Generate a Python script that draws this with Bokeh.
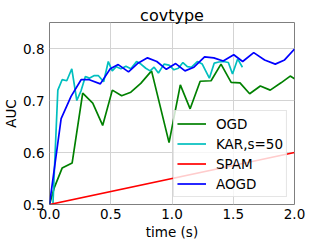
from bokeh.plotting import figure
from bokeh.models import Range1d, FixedTicker, PrintfTickFormatter
from bokeh.embed import file_html
from bokeh.resources import INLINE

title = "covtype"
x_label = "time (s)"
y_label = "AUC"
x_ticks = [0.0, 0.5, 1.0, 1.5, 2.0]
y_ticks = [0.5, 0.6, 0.7, 0.8]

ogd_t = [0, 0.04, 0.103, 0.185, 0.271, 0.353, 0.434, 0.513, 0.589, 0.664, 0.745, 0.833,
         0.976, 1.068, 1.148, 1.230, 1.319, 1.400, 1.483, 1.555, 1.634, 1.721, 1.802,
         1.890, 1.965, 2.0]
ogd_v = [0.5, 0.533, 0.570, 0.580, 0.714, 0.695, 0.652, 0.720, 0.709, 0.716, 0.733, 0.757,
         0.619, 0.730, 0.684, 0.737, 0.738, 0.770, 0.735, 0.734, 0.713, 0.728, 0.720,
         0.734, 0.747, 0.742]

kar_t = [0, 0.028, 0.068, 0.103, 0.141, 0.182, 0.223, 0.258, 0.293, 0.325, 0.366, 0.398,
         0.442, 0.480, 0.512, 0.545, 0.583, 0.624, 0.664, 0.711, 0.746, 0.786, 0.821,
         0.854, 0.889, 0.935, 0.976, 1.016, 1.052, 1.089, 1.125, 1.160, 1.207, 1.247,
         1.305, 1.345, 1.382, 1.420, 1.460, 1.494, 1.536, 1.575]
kar_v = [0.5, 0.5, 0.720, 0.740, 0.738, 0.761, 0.700, 0.719, 0.746, 0.743, 0.748, 0.748,
         0.736, 0.775, 0.757, 0.765, 0.761, 0.766, 0.761, 0.775, 0.770, 0.762, 0.757,
         0.764, 0.753, 0.770, 0.768, 0.759, 0.762, 0.773, 0.765, 0.764, 0.775, 0.770,
         0.743, 0.772, 0.774, 0.775, 0.773, 0.751, 0.780, 0.764]

spam_t = [0.0, 2.0]
spam_v = [0.5, 0.6]

aogd_t = [0, 0.095, 0.176, 0.258, 0.325, 0.415, 0.496, 0.561, 0.645, 0.718, 0.800, 0.876,
          0.954, 1.030, 1.106, 1.179, 1.266, 1.341, 1.418, 1.504, 1.577, 1.667, 1.756,
          1.843, 1.919, 2.0]
aogd_v = [0.5, 0.665, 0.708, 0.740, 0.740, 0.732, 0.761, 0.769, 0.755, 0.771, 0.782, 0.775,
          0.760, 0.771, 0.757, 0.764, 0.784, 0.782, 0.776, 0.788, 0.775, 0.792, 0.778,
          0.770, 0.778, 0.799]

FONT = "DejaVu Sans"

p = figure(width=310, height=244, output_backend="svg", toolbar_location=None,
           x_range=Range1d(0, 2.0), y_range=Range1d(0.5, 0.85), title=title,
           min_border_left=48, min_border_right=16, min_border_top=22, min_border_bottom=40)

p.title.text_font = FONT
p.title.text_font_size = "16px"
p.title.text_font_style = "normal"
p.title.text_color = "black"
p.title.align = "center"
p.title.standoff = -4

lw = 1.7
p.line(ogd_t, ogd_v, line_color="#008000", line_width=lw, legend_label="OGD")
p.line(kar_t, kar_v, line_color="#00bfbf", line_width=lw, legend_label="KAR,s=50")
p.line(spam_t, spam_v, line_color="#ff0000", line_width=lw, legend_label="SPAM")
p.line(aogd_t, aogd_v, line_color="#0000ff", line_width=lw, legend_label="AOGD")

for ax, ticks in ((p.xaxis[0], x_ticks), (p.yaxis[0], y_ticks)):
    ax.ticker = FixedTicker(ticks=ticks)
    ax.formatter = PrintfTickFormatter(format="%.1f")
    ax.axis_line_color = None
    ax.major_tick_line_color = None
    ax.minor_tick_line_color = None
    ax.major_tick_out = 0
    ax.major_tick_in = 0
    ax.major_label_text_font = FONT
    ax.major_label_text_font_size = "13.5px"
    ax.major_label_text_color = "black"
    ax.axis_label_text_font = FONT
    ax.axis_label_text_font_size = "13.5px"
    ax.axis_label_text_font_style = "normal"
    ax.axis_label_text_color = "black"

p.xaxis.axis_label = x_label
p.yaxis.axis_label = y_label
p.xaxis.major_label_standoff = 4
p.xaxis.axis_label_standoff = 2
p.yaxis.major_label_standoff = 5
p.yaxis.axis_label_standoff = 1

p.grid.grid_line_color = "#d3d3d3"
p.grid.grid_line_width = 1
p.outline_line_color = "#7f7f7f"
p.outline_line_width = 1
p.background_fill_color = "white"
p.border_fill_color = "white"

lg = p.legend[0]
lg.location = "bottom_right"
lg.margin = 7
lg.padding = 3
lg.spacing = 1
lg.glyph_height = 19
lg.label_height = 19
lg.glyph_width = 29
lg.label_standoff = 10
lg.label_text_font = FONT
lg.label_text_font_size = "13.5px"
lg.label_text_color = "black"
lg.border_line_color = "#cccccc"
lg.border_line_width = 1
lg.background_fill_alpha = 0.8

open("out.html", "w").write(file_html(p, INLINE))
